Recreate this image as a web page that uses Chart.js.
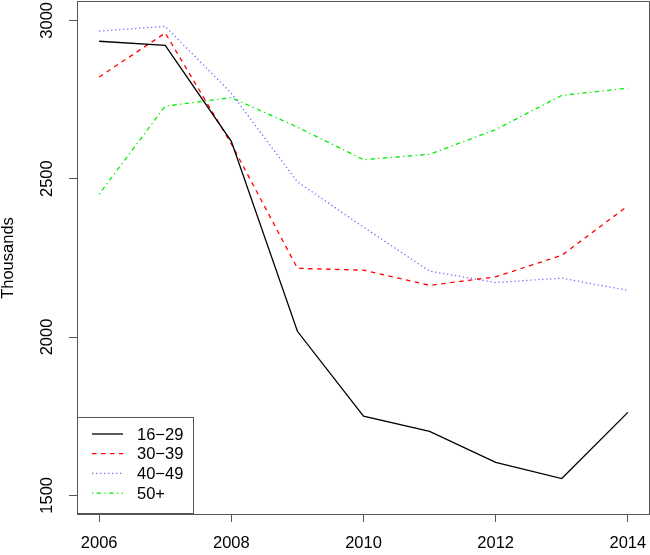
<!DOCTYPE html>
<html>
<head>
<meta charset="utf-8">
<script src="https://cdn.jsdelivr.net/npm/chart.js@4"></script>
<style>
  html, body { margin: 0; padding: 0; background: #fff; }
  canvas { display: block; }
</style>
</head>
<body>
<canvas id="chart" width="650" height="555"></canvas>
<script>
const years = [2006, 2007, 2008, 2009, 2010, 2011, 2012, 2013, 2014];
const age16to29 = [2934, 2921, 2618, 2018, 1750, 1702, 1604, 1553, 1762];
const age30to39 = [2821, 2960, 2610, 2217, 2211, 2163, 2190, 2258, 2414];
const age40to49 = [2966, 2981, 2770, 2490, 2347, 2208, 2172, 2186, 2147];
const age50plus = [2451, 2729, 2756, 2663, 2560, 2577, 2655, 2763, 2786];
const seriesLabels = ['16−29', '30−39', '40−49', '50+'];
const xTicks = [2006, 2008, 2010, 2012, 2014];
const yTicks = [1500, 2000, 2500, 3000];

Chart.defaults.font.family = '"Liberation Sans", Arial, sans-serif';
Chart.defaults.font.size = 16.5;
Chart.defaults.color = '#000';

function points(values) {
  return values.map((v, i) => ({ x: years[i], y: v }));
}

// box round the plot + R style legend in the bottom-left corner
const frameAndLegend = {
  id: 'frameAndLegend',
  afterDraw(chart) {
    const { ctx, chartArea: a } = chart;
    ctx.save();
    ctx.setLineDash([]);
    ctx.lineWidth = 1;
    ctx.strokeStyle = '#555';
    ctx.strokeRect(a.left - 0.5, a.top - 0.5, a.right - a.left + 1, a.bottom - a.top + 1);

    const bx = a.left - 0.5, by = a.bottom - 96.5;
    ctx.fillStyle = '#fff';
    ctx.fillRect(bx, by, 116, 96);
    ctx.strokeRect(bx, by, 116, 96);

    ctx.font = '16.5px "Liberation Sans", Arial, sans-serif';
    ctx.textBaseline = 'middle';
    chart.data.datasets.forEach((ds, i) => {
      const y = a.bottom - 80 + i * 19.7;
      ctx.strokeStyle = ds.borderColor;
      ctx.lineWidth = ds.borderWidth;
      ctx.setLineDash(ds.borderDash || []);
      ctx.beginPath();
      ctx.moveTo(a.left + 14, y);
      ctx.lineTo(a.left + 45, y);
      ctx.stroke();
      ctx.fillStyle = '#000';
      ctx.fillText(ds.label, a.left + 59, y + 1);
    });
    ctx.restore();
  }
};

const ctx = document.getElementById('chart').getContext('2d');
new Chart(ctx, {
  type: 'line',
  data: {
    datasets: [
      { label: seriesLabels[0], data: points(age16to29), borderColor: '#000000', borderWidth: 1.3 },
      { label: seriesLabels[1], data: points(age30to39), borderColor: '#ff0000', borderWidth: 1.3, borderDash: [4.5, 4.5] },
      { label: seriesLabels[2], data: points(age40to49), borderColor: '#6f6fff', borderWidth: 1.3, borderDash: [1.3, 2.7] },
      { label: seriesLabels[3], data: points(age50plus), borderColor: '#00ee00', borderWidth: 1.3, borderDash: [1.3, 3.4, 4.4, 3.4] }
    ]
  },
  options: {
    responsive: false,
    animation: false,
    layout: { padding: { top: 2, right: 1, left: 0, bottom: 0 } },
    elements: { point: { radius: 0 }, line: { tension: 0, fill: false } },
    plugins: {
      legend: { display: false },
      tooltip: { enabled: false }
    },
    scales: {
      x: {
        type: 'linear',
        min: 2005.68,
        max: 2014.32,
        afterBuildTicks: s => { s.ticks = xTicks.map(v => ({ value: v })); },
        afterFit: s => { s.height = 41; s.paddingLeft = 0; s.paddingRight = 0; },
        grid: { drawOnChartArea: false, drawTicks: true, tickLength: 8, color: '#555' },
        border: { display: false },
        ticks: { autoSkip: false, maxRotation: 0, padding: 12, callback: v => String(v) }
      },
      y: {
        min: 1441,
        max: 3058,
        afterBuildTicks: s => { s.ticks = yTicks.map(v => ({ value: v })); },
        afterFit: s => { s.width = 78; s.paddingTop = 0; s.paddingBottom = 0; },
        title: { display: true, text: 'Thousands', font: { size: 16.5, lineHeight: 1 }, padding: { top: 0.5, bottom: 0 } },
        grid: { drawOnChartArea: false, drawTicks: true, tickLength: 9, color: '#555' },
        border: { display: false },
        ticks: { autoSkip: false, minRotation: 90, maxRotation: 90, crossAlign: 'center', padding: 3, callback: v => String(v) }
      }
    }
  },
  plugins: [frameAndLegend]
});
</script>
</body>
</html>
